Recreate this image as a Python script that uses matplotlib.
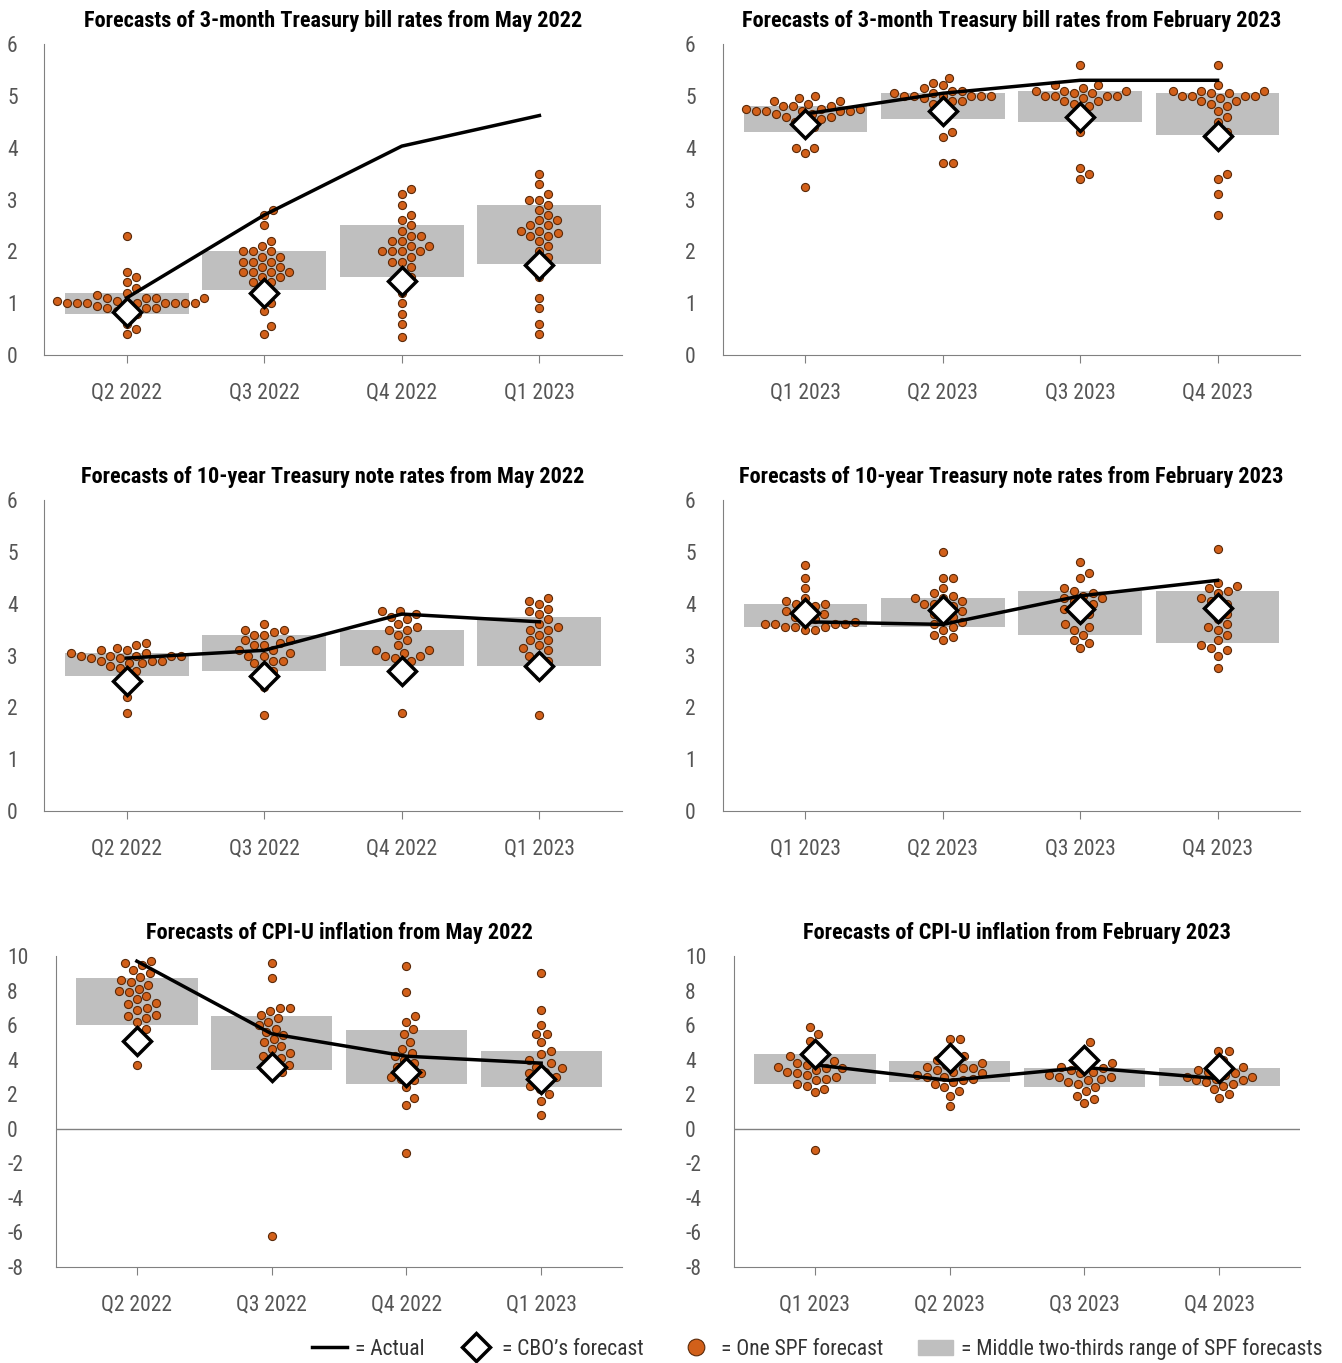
import matplotlib
matplotlib.use("Agg")
import matplotlib.pyplot as plt
import numpy as np
from matplotlib.lines import Line2D
from matplotlib.patches import Patch
from matplotlib import font_manager

names = {f.name for f in font_manager.fontManager.ttflist}
fam = None
for c in ["Roboto Condensed", "Liberation Sans Narrow", "Open Sans Condensed", "Roboto", "Liberation Sans"]:
    if c in names:
        fam = c
        break
plt.rcParams['font.family'] = [fam, 'DejaVu Sans']
plt.rcParams['axes.unicode_minus'] = False
narrow = fam in ("Roboto Condensed", "Liberation Sans Narrow", "Open Sans Condensed")
TS = 16 if narrow else 13.5
LS = 15.5 if narrow else 14

titles = ["Forecasts of 3-month Treasury bill rates from May 2022",
          "Forecasts of 3-month Treasury bill rates from February 2023",
          "Forecasts of 10-year Treasury note rates from May 2022",
          "Forecasts of 10-year Treasury note rates from February 2023",
          "Forecasts of CPI-U inflation from May 2022",
          "Forecasts of CPI-U inflation from February 2023"]
cats_may = ["Q2 2022", "Q3 2022", "Q4 2022", "Q1 2023"]
cats_feb = ["Q1 2023", "Q2 2023", "Q3 2023", "Q4 2023"]

actual = [[1.1, 2.7, 4.03, 4.62], [4.65, 5.05, 5.3, 5.3],
          [2.95, 3.1, 3.8, 3.65], [3.65, 3.6, 4.15, 4.45],
          [9.7, 5.5, 4.2, 3.8], [3.7, 2.8, 3.55, 2.9]]
cbo = [[0.83, 1.2, 1.43, 1.73], [4.45, 4.7, 4.6, 4.22],
       [2.5, 2.6, 2.7, 2.8], [3.82, 3.87, 3.9, 3.92],
       [5.1, 3.6, 3.3, 2.9], [4.3, 4.1, 4.0, 3.5]]
band_lo = [[0.8, 1.25, 1.5, 1.75], [4.3, 4.55, 4.5, 4.25],
           [2.6, 2.7, 2.8, 2.8], [3.55, 3.55, 3.4, 3.25],
           [6.0, 3.4, 2.6, 2.4], [2.6, 2.7, 2.4, 2.5]]
band_hi = [[1.2, 2.0, 2.5, 2.9], [4.8, 5.05, 5.1, 5.05],
           [3.05, 3.4, 3.5, 3.75], [4.0, 4.1, 4.25, 4.25],
           [8.7, 6.5, 5.7, 4.5], [4.3, 3.9, 3.5, 3.5]]

spf = [
 [[0.4,0.5,0.6,0.8,0.8,0.85,0.9,0.9,0.9,0.95,1.0,1.0,1.0,1.0,1.0,1.0,1.0,1.0,1.0,1.05,1.05,1.1,1.1,1.1,1.1,1.15,1.2,1.3,1.4,1.5,1.6,2.3],
  [0.4,0.55,0.85,1.0,1.1,1.2,1.3,1.4,1.4,1.5,1.5,1.6,1.6,1.6,1.6,1.7,1.7,1.8,1.8,1.8,1.9,1.9,2.0,2.0,2.0,2.1,2.2,2.5,2.7,2.8],
  [0.35,0.6,0.8,1.0,1.2,1.4,1.5,1.6,1.7,1.8,1.8,1.9,2.0,2.0,2.0,2.0,2.1,2.1,2.2,2.2,2.3,2.3,2.4,2.5,2.6,2.7,2.9,3.1,3.2],
  [0.4,0.6,0.9,1.1,1.5,1.8,1.9,2.0,2.1,2.2,2.3,2.3,2.35,2.4,2.4,2.5,2.5,2.6,2.6,2.7,2.8,2.9,3.0,3.0,3.1,3.3,3.5]],
 [[3.25,3.9,4.0,4.0,4.3,4.4,4.5,4.5,4.55,4.6,4.6,4.65,4.65,4.7,4.7,4.7,4.7,4.7,4.75,4.75,4.75,4.8,4.8,4.8,4.85,4.9,4.9,4.95,5.0],
  [3.7,3.7,4.2,4.3,4.6,4.7,4.8,4.85,4.9,4.9,4.95,5.0,5.0,5.0,5.0,5.0,5.0,5.05,5.05,5.1,5.1,5.15,5.2,5.25,5.35],
  [3.4,3.5,3.6,4.3,4.5,4.6,4.7,4.8,4.85,4.9,4.9,4.95,5.0,5.0,5.0,5.0,5.05,5.05,5.1,5.1,5.1,5.15,5.2,5.2,5.6],
  [2.7,3.1,3.4,3.5,4.2,4.3,4.5,4.6,4.7,4.8,4.85,4.9,4.9,4.95,5.0,5.0,5.0,5.0,5.05,5.05,5.1,5.1,5.1,5.2,5.6]],
 [[1.9,2.2,2.6,2.7,2.75,2.8,2.85,2.85,2.9,2.9,2.9,2.95,2.95,3.0,3.0,3.0,3.0,3.0,3.05,3.05,3.1,3.1,3.15,3.2,3.25],
  [1.85,2.4,2.6,2.7,2.8,2.85,2.9,2.9,3.0,3.0,3.05,3.1,3.1,3.2,3.2,3.25,3.3,3.3,3.4,3.4,3.45,3.5,3.5,3.6],
  [1.9,2.6,2.7,2.8,2.9,2.95,3.0,3.0,3.05,3.1,3.1,3.2,3.3,3.4,3.5,3.5,3.55,3.6,3.7,3.75,3.8,3.85,3.85],
  [1.85,2.6,2.8,2.9,3.0,3.0,3.1,3.15,3.2,3.3,3.3,3.4,3.5,3.5,3.55,3.6,3.7,3.8,3.85,3.9,4.0,4.05,4.1]],
 [[3.5,3.5,3.55,3.55,3.55,3.6,3.6,3.6,3.6,3.65,3.7,3.7,3.75,3.8,3.85,3.9,3.95,4.0,4.0,4.05,4.1,4.3,4.5,4.75],
  [3.3,3.35,3.4,3.5,3.55,3.6,3.65,3.7,3.75,3.8,3.85,3.9,3.95,4.0,4.0,4.05,4.1,4.1,4.15,4.2,4.3,4.5,4.5,5.0],
  [3.15,3.25,3.3,3.4,3.5,3.55,3.6,3.7,3.8,3.85,3.9,3.95,4.0,4.05,4.1,4.1,4.15,4.2,4.25,4.3,4.5,4.6,4.8],
  [2.75,3.0,3.1,3.15,3.2,3.3,3.4,3.5,3.55,3.6,3.7,3.8,3.9,4.0,4.05,4.1,4.2,4.25,4.3,4.35,4.4,5.05]],
 [[3.7,4.9,5.5,5.8,6.2,6.4,6.5,6.6,6.9,7.0,7.2,7.3,7.5,7.7,7.9,8.0,8.1,8.3,8.5,8.6,8.8,9.0,9.2,9.5,9.6,9.7],
  [-6.2,3.2,3.3,3.5,3.7,3.9,4.1,4.2,4.4,4.6,4.8,5.0,5.2,5.4,5.6,5.8,6.0,6.2,6.4,6.6,6.8,7.0,7.0,8.7,9.6],
  [-1.4,1.4,1.8,2.4,2.8,2.9,3.0,3.2,3.4,3.6,3.8,4.0,4.2,4.4,4.6,5.0,5.5,5.8,6.2,6.5,7.9,9.4],
  [0.8,1.6,2.0,2.3,2.5,2.7,2.9,3.0,3.2,3.3,3.5,3.6,3.8,4.0,4.3,4.5,5.0,5.5,5.5,6.0,6.9,9.0]],
 [[-1.2,2.1,2.3,2.5,2.6,2.8,2.9,3.0,3.1,3.2,3.3,3.4,3.5,3.5,3.6,3.7,3.8,3.9,4.0,4.2,4.4,4.7,5.1,5.5,5.9],
  [1.3,1.9,2.2,2.4,2.6,2.7,2.8,2.9,3.0,3.0,3.1,3.2,3.3,3.4,3.5,3.5,3.6,3.7,3.8,3.9,4.0,4.2,4.5,5.2,5.2],
  [1.5,1.7,1.9,2.2,2.4,2.6,2.7,2.8,2.9,3.0,3.0,3.1,3.2,3.3,3.4,3.5,3.6,3.7,3.8,4.0,4.5,5.0],
  [1.8,2.0,2.3,2.5,2.6,2.7,2.8,2.8,2.9,3.0,3.0,3.1,3.2,3.3,3.4,3.5,3.6,4.0,4.5,4.5]],
]

W, H = 1342, 1363
fig = plt.figure(figsize=(W/100, H/100), dpi=100)
boxes = [(44, 622, 44, 355), (723, 1300, 44, 355),
         (44, 622, 500, 811), (723, 1300, 500, 811),
         (56, 622, 956, 1267), (734, 1300, 956, 1267)]
label_x = [7, 685, 7, 685, 7, 685]
ylims = [(0, 6)] * 4 + [(-8, 10)] * 2
GRAY = "#808080"
ORANGE = "#d2601a"
BAR = "#bfbfbf"
D = 10.0

def swarm(vals, ppx, ppy):
    placed = []
    offs = []
    for v in vals:
        y = v * ppy
        best = None
        k = 0
        while best is None:
            for s in ([0] if k == 0 else [1, -1]):
                o = s * k * 0.5
                if all((o - px) ** 2 + (y - py) ** 2 >= D * D for px, py in placed):
                    best = o
                    break
            k += 1
        placed.append((best, y))
        offs.append(best / ppx)
    return np.array(offs)

for i in range(6):
    l, r, t, b = boxes[i]
    ax = fig.add_axes([l / W, 1 - b / H, (r - l) / W, (b - t) / H])
    y0, y1 = ylims[i]
    x0, x1 = -0.6, 3.6
    ax.set_xlim(x0, x1)
    ax.set_ylim(y0, y1)
    ppx = (r - l) / (x1 - x0)
    ppy = (b - t) / (y1 - y0)
    xs = np.arange(4)
    ax.bar(xs, np.array(band_hi[i]) - np.array(band_lo[i]), bottom=band_lo[i],
           width=0.9, color=BAR, zorder=1)
    for j in range(4):
        vals = sorted(spf[i][j])
        offs = swarm(vals, ppx, ppy)
        ax.scatter(j + offs, vals, s=34, color=ORANGE, edgecolor="#5a2a0a",
                   linewidth=0.8, zorder=3)
    ax.plot(xs, actual[i], color="black", lw=2.5, zorder=4)
    ax.plot(xs, cbo[i], ls="none", marker="D", ms=14, mfc="white", mec="black",
            mew=2.5, zorder=5)
    cats = cats_may if i % 2 == 0 else cats_feb
    ax.set_xticks(xs)
    ax.set_xticklabels(cats)
    if i < 4:
        ax.set_yticks(range(0, 7))
    else:
        ax.set_yticks(range(-8, 11, 2))
        ax.axhline(0, color=GRAY, lw=1, zorder=2)
    for s in ["top", "right"]:
        ax.spines[s].set_visible(False)
    for s in ["left", "bottom"]:
        ax.spines[s].set_color(GRAY)
    ax.tick_params(axis="x", colors=GRAY, labelcolor="#555555", labelsize=LS,
                   length=6, pad=14)
    ax.tick_params(axis="y", length=0, labelcolor="#555555", labelsize=LS,
                   pad=(l - label_x[i]) * 0.72)
    for lab in ax.get_yticklabels():
        lab.set_horizontalalignment("left")
    ax.set_title(titles[i], fontsize=TS, fontweight="bold", pad=12)

handles = [Line2D([], [], color="black", lw=2.5),
           Line2D([], [], ls="none", marker="D", ms=14, mfc="white", mec="black", mew=2.5),
           Line2D([], [], ls="none", marker="o", ms=12, mfc=ORANGE, mec="#5a2a0a", mew=0.8),
           Patch(color=BAR)]
labels = ["= Actual", "= CBO\u2019s forecast", "= One SPF forecast",
          "= Middle two-thirds range of SPF forecasts"]
fig.legend(handles, labels, loc="lower right", bbox_to_anchor=(1.0, -0.012),
           ncol=4, frameon=False, fontsize=LS, handlelength=1.6,
           handletextpad=0.4, columnspacing=1.6, labelcolor="#333333")

fig.savefig("out.png", dpi=100)
